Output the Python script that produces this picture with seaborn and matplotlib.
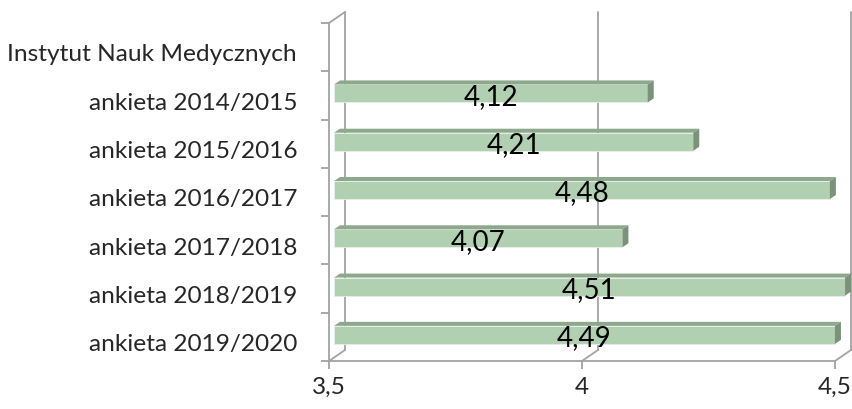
import matplotlib
matplotlib.use("Agg")
import matplotlib.pyplot as plt
import matplotlib.transforms as mtransforms
from matplotlib.lines import Line2D
from matplotlib.patches import Polygon
import numpy as np
import pandas as pd
import seaborn as sns

categories = [
    "Instytut Nauk Medycznych",
    "ankieta 2014/2015",
    "ankieta 2015/2016",
    "ankieta 2016/2017",
    "ankieta 2017/2018",
    "ankieta 2018/2019",
    "ankieta 2019/2020",
]
scores = [np.nan, 4.12, 4.21, 4.48, 4.07, 4.51, 4.49]
x_ticks = [3.5, 4.0, 4.5]
x_ticklabels = ["3,5", "4", "4,5"]

FACE = "#b1cfb1"
TOP = "#8da88d"
SIDE = "#7a917a"
GRID = "#a3a3a3"

sns.set_theme(style="white")
plt.rcParams["font.family"] = ["Lato", "DejaVu Sans"]

DPI = 100
fig = plt.figure(figsize=(8.53, 4.10), dpi=DPI)
ax = fig.add_axes([329 / 853, 1 - 362 / 410, (835 - 329) / 853, (362 - 24) / 410])

df = pd.DataFrame({"label": categories, "score": scores})
sns.barplot(data=df, y="label", x="score", order=categories, orient="h",
            width=0.373, color=FACE, saturation=1, edgecolor="#e8f0e8",
            linewidth=0.6, ax=ax)

x0, x1 = x_ticks[0], x_ticks[-1]
ax.set_xlim(x0, x1)
ax.set_ylim(len(categories) - 0.5, -0.5)


# pixel offsets of the pseudo-3d projection
def px(dx, dy):
    return mtransforms.ScaledTranslation(dx / DPI, dy / DPI, fig.dpi_scale_trans)


back = (16, 11)
bar_front = (5, 2)
bar_depth = (6, 4)
ident = mtransforms.IdentityTransform()

# back wall / gridlines
for x in x_ticks:
    ax.add_line(Line2D([x, x], [-0.5, len(categories) - 0.5], color=GRID, lw=1.3,
                       transform=ax.transData + px(*back), clip_on=False, zorder=0.5))
    p = ax.transData.transform((x, len(categories) - 0.5))
    ax.add_line(Line2D([p[0], p[0] + back[0]], [p[1], p[1] + back[1]], color=GRID,
                       lw=1.3, transform=ident, clip_on=False, zorder=0.5))
p = ax.transData.transform((x0, -0.5))
ax.add_line(Line2D([p[0], p[0] + back[0]], [p[1], p[1] + back[1]], color=GRID,
                   lw=1.3, transform=ident, clip_on=False, zorder=0.5))

# turn the flat bars into 3d-looking bars
bars = list(ax.patches)
values = [v for v in scores if not np.isnan(v)]
bar_trans = ax.transData + px(*bar_front)
for patch, val in zip(bars, values):
    patch.set_x(x0)
    patch.set_width(val - x0)
    patch.set_transform(bar_trans)
    patch.set_clip_on(False)
    patch.set_zorder(3)
    y_a, y_b = patch.get_y(), patch.get_y() + patch.get_height()
    corners = bar_trans.transform([(x0, y_a), (val, y_a), (val, y_b)])
    left, right = corners[0][0], corners[1][0]
    top = max(corners[0][1], corners[2][1])
    bottom = min(corners[0][1], corners[2][1])
    dx, dy = bar_depth
    ax.add_patch(Polygon([(left, top), (right, top), (right + dx, top + dy),
                          (left + dx, top + dy)], closed=True, facecolor=TOP,
                         edgecolor="none", transform=ident, clip_on=False, zorder=3))
    ax.add_patch(Polygon([(right, bottom), (right, top), (right + dx, top + dy),
                          (right + dx, bottom + dy)], closed=True, facecolor=SIDE,
                         edgecolor="none", transform=ident, clip_on=False, zorder=3))
    yc = (y_a + y_b) / 2
    ax.text((x0 + val) / 2, yc + 0.05, f"{val:.2f}".replace(".", ","),
            ha="center", va="center", fontsize=20, color="black",
            transform=bar_trans, zorder=4)

for side in ["top", "right"]:
    ax.spines[side].set_visible(False)
for side in ["left", "bottom"]:
    ax.spines[side].set_color(GRID)
    ax.spines[side].set_linewidth(1.3)

ax.set_xticks(x_ticks, labels=x_ticklabels)
ax.set_yticks(np.arange(len(categories)) + 0.1, labels=categories)
ax.set_yticks(np.arange(len(categories) + 1) - 0.5, minor=True)
ax.tick_params(axis="y", which="major", length=0, pad=23, labelsize=17.6)
ax.tick_params(axis="y", which="minor", left=True, length=6, width=1.3, color=GRID)
ax.tick_params(axis="x", which="major", bottom=True, length=6, width=1.3,
               color=GRID, pad=5, labelsize=17.6)
ax.set_xlabel("")
ax.set_ylabel("")

fig.savefig("out.png", dpi=DPI)
